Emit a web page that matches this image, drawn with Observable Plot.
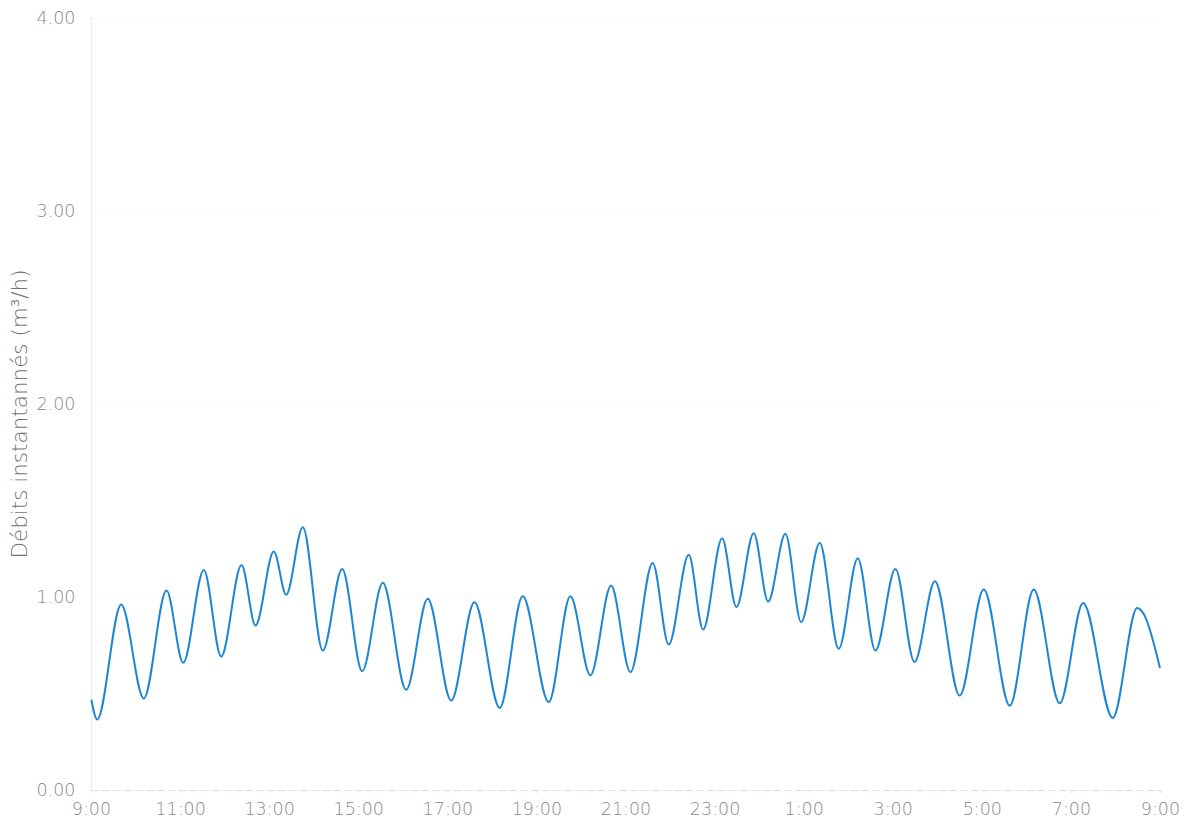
<!DOCTYPE html>
<html>
<head>
<meta charset="utf-8">
<script src="https://cdn.jsdelivr.net/npm/d3@7"></script>
<script src="https://cdn.jsdelivr.net/npm/@observablehq/plot@0.6"></script>
<style>
  html, body { margin: 0; padding: 0; background: #fff; }
  #chart { position: relative; width: 1199px; height: 825px; }
  #ylabel {
    position: absolute; left: 19px; top: 414px;
    transform: translate(-50%, -50%) rotate(-90deg);
    font-family: "DejaVu Sans ExtraLight", "DejaVu Sans", sans-serif; font-weight: 200;
    font-size: 21.5px; color: #757575; white-space: nowrap;
  }
</style>
</head>
<body>
<div id="chart"><div id="ylabel">Débits instantannés (m³/h)</div></div>
<script>
// Hours elapsed since 9:00 (start of the 24 h record)
const hoursSinceStart = [
  0.000, 0.128, 0.667, 1.174, 1.684, 2.059, 2.521, 2.912, 3.368, 3.682,
  4.093, 4.371, 4.744, 5.193, 5.628, 6.077, 6.539, 7.064, 7.549, 8.074,
  8.597, 9.165, 9.681, 10.265, 10.752, 11.201, 11.665, 12.099, 12.599, 12.959,
  13.408, 13.731, 14.158, 14.479, 14.867, 15.191, 15.579, 15.932, 16.349, 16.776,
  17.203, 17.600, 18.049, 18.476, 18.936, 19.491, 20.032, 20.616, 21.154, 21.738,
  22.263, 22.928, 23.476, 23.624, 23.984
];
// Instantaneous flow (m³/h)
const flow = [
  0.466, 0.368, 0.964, 0.477, 1.036, 0.662, 1.143, 0.694, 1.169, 0.855,
  1.238, 1.014, 1.364, 0.725, 1.148, 0.618, 1.076, 0.522, 0.993, 0.466,
  0.976, 0.428, 1.006, 0.458, 1.006, 0.596, 1.062, 0.613, 1.179, 0.756,
  1.221, 0.834, 1.307, 0.950, 1.333, 0.979, 1.330, 0.872, 1.282, 0.734,
  1.204, 0.725, 1.148, 0.666, 1.084, 0.492, 1.041, 0.440, 1.041, 0.452,
  0.971, 0.376, 0.946, 0.915, 0.639
];
const yTicks = [0, 1, 2, 3, 4];
const xTickLabels = ["9:00","11:00","13:00","15:00","17:00","19:00","21:00","23:00","1:00","3:00","5:00","7:00","9:00"];

const start = Date.UTC(2020, 0, 1, 9, 0);
const data = hoursSinceStart.map((h, i) => ({ t: new Date(start + h * 3600e3), v: flow[i] }));
const xTicks = xTickLabels.map((_, i) => new Date(start + i * 2 * 3600e3));

const chart = Plot.plot({
  width: 1199,
  height: 825,
  marginLeft: 91,
  marginRight: 39,
  marginTop: 18,
  marginBottom: 35,
  style: { fontFamily: "'DejaVu Sans ExtraLight', 'DejaVu Sans', sans-serif", fontSize: "17.5px", color: "#8a8a8a", background: "transparent" },
  x: { type: "utc", domain: [new Date(start), new Date(start + 24 * 3600e3)] },
  y: { domain: [0, 4] },
  marks: [
    Plot.gridY(yTicks.slice(1), { stroke: "#f1f5f8", strokeOpacity: 1, strokeDasharray: "10,6" }),
    Plot.ruleX([new Date(start)], { stroke: "#e3ecf2" }),
    Plot.ruleY([0], { stroke: "#d6e4ee", strokeDasharray: "8,3" }),
    Plot.axisY({ ticks: yTicks, tickFormat: d3.format(".2f"), tickSize: 0, tickPadding: 16, label: null, fill: "#8a8a8a", fontWeight: 200 }),
    Plot.axisX({ ticks: xTicks, tickFormat: (d, i) => xTickLabels[i], tickSize: 3, tickPadding: 9, label: null, stroke: "#d6e4ee", fill: "#8a8a8a", fontWeight: 200 }),
    Plot.line(data, { x: "t", y: "v", curve: "monotone-x", stroke: "#1f86d3", strokeWidth: 2 })
  ]
});
document.getElementById("chart").appendChild(chart);
</script>
</body>
</html>
